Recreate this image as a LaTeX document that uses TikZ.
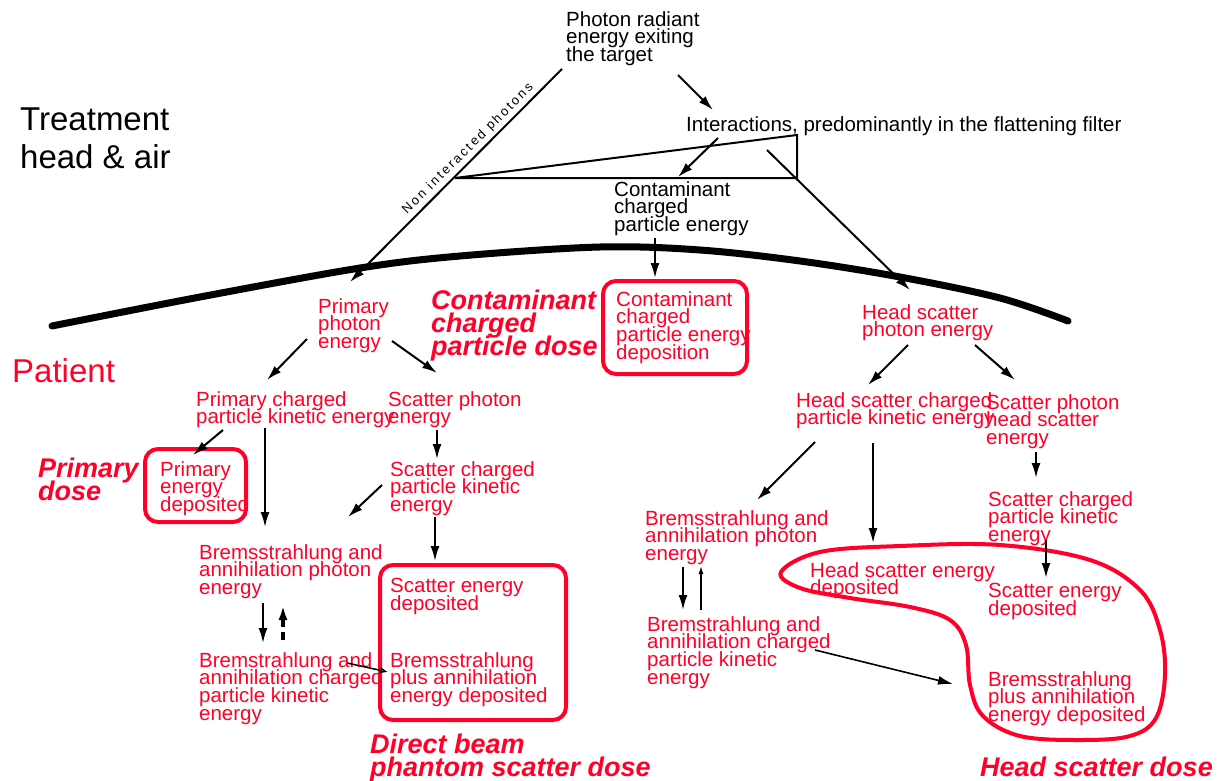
\documentclass[tikz,border=0pt]{standalone}
\usepackage{fontspec}
\setmainfont{Liberation Sans}
\usetikzlibrary{arrows.meta}
\definecolor{hred}{RGB}{255,0,40}
\newcommand\tightlines{\lineskiplimit-20pt\lineskip0pt\relax}

\tikzset{
  lbl/.style={font=\fontsize{20.5}{17.8}\selectfont\tightlines, align=left, anchor=north west, inner sep=0pt},
  rlbl/.style={lbl, text=hred},
  zone/.style={font=\fontsize{33}{38}\selectfont, align=left, anchor=north west, inner sep=0pt},
  dose/.style={font=\fontsize{27}{23}\selectfont\bfseries\itshape\tightlines, text=hred, align=left, anchor=north west, inner sep=0pt},
  arr/.style={-{Latex[length=15pt,width=9pt]}, line width=2pt},
  thinarr/.style={-{Latex[length=8pt,width=5pt]}, line width=1.4pt},
  rbox/.style={draw=hred, line width=4pt, rounded corners=13pt},
}

\begin{document}
\begin{tikzpicture}[x=1pt, y=-1pt]
\useasboundingbox (0,0) rectangle (1218,781);

% Zone labels
\node[zone] (head) at (20,108) {Treatment\\head \& air};
\node[zone, text=hred] (patient) at (12,358) {Patient};

% Treatment head
\node[lbl] (photon) at (566,11) {Photon radiant\\energy exiting\\the target};
\node[lbl] (interact) at (686,116) {Interactions, predominantly in the flattening filter};
\node[lbl] (contam) at (614,181) {Contaminant\\charged\\particle energy};

\coordinate (ffa) at (455,178);
\coordinate (ffb) at (797,178);
\coordinate (ffc) at (797,135);
\draw[line width=2pt, line join=miter] (ffa) -- (ffb) -- (ffc) -- cycle;

\coordinate (nip0) at (562,69);
\coordinate (nip1) at (350,282);
\coordinate (int0) at (678,75);
\coordinate (int1) at (713,110);
\coordinate (con0) at (718,138);
\coordinate (con1) at (678,177);
\coordinate (hsp0) at (767,150);
\coordinate (hsp1) at (910,290);
\coordinate (dep0) at (655,238);
\coordinate (dep1) at (655,278);

\draw[arr] (nip0) -- (nip1);
\node[rotate=45, inner sep=0pt, font=\fontsize{13}{13}\selectfont\addfontfeatures{LetterSpace=18}] (nip) at (468,149) {Non interacted photons};
\draw[arr] (int0) -- (int1);
\draw[arr] (con0) -- (con1);
\draw[arr] (hsp0) -- (hsp1);
\draw[arr] (dep0) -- (dep1);

% Patient surface
\draw[line width=7pt, line cap=round] plot[smooth, tension=0.55] coordinates {(52,326) (200,297) (360,268) (460,256) (600,247) (700,250) (800,261) (900,277) (1000,298) (1068,321)};

% Direct beam
\node[rlbl] (ppe) at (318,298) {Primary\\photon\\energy};
\node[rlbl] (pck) at (196,391) {Primary charged\\particle kinetic energy};
\node[rlbl] (sph) at (388,391) {Scatter photon\\energy};
\node[rlbl] (ped) at (160,461) {Primary\\energy\\deposited};
\node[rlbl] (sck) at (390,461) {Scatter charged\\particle kinetic\\energy};
\node[rlbl] (bph) at (199,544) {Bremsstrahlung and\\annihilation photon\\energy};
\node[rlbl] (sed) at (390,578) {Scatter energy\\deposited};
\node[rlbl] (bch) at (199,652) {Bremstrahlung and\\annihilation charged\\particle kinetic\\energy};
\node[rlbl] (bpa) at (390,652) {Bremsstrahlung\\plus annihilation\\energy deposited};

\draw[rbox] (145,449) rectangle (246,522);
\draw[rbox] (380,565) rectangle (566,720);

\coordinate (a1s) at (307,339); \coordinate (a1e) at (267,380);
\coordinate (a2s) at (392,341); \coordinate (a2e) at (437,373);
\coordinate (a3s) at (223,430); \coordinate (a3e) at (193,455);
\coordinate (a4s) at (265,428); \coordinate (a4e) at (265,527);
\coordinate (a5s) at (437,430); \coordinate (a5e) at (437,459);
\coordinate (a6s) at (382,485); \coordinate (a6e) at (348,517);
\coordinate (a7s) at (435,517); \coordinate (a7e) at (435,561);
\coordinate (a8s) at (263,603); \coordinate (a8e) at (263,643);
\coordinate (a9s) at (283,640); \coordinate (a9e) at (283,605);
\coordinate (a10s) at (347,663); \coordinate (a10e) at (388,672);

\draw[arr] (a1s) -- (a1e);
\draw[arr] (a2s) -- (a2e);
\draw[arr] (a3s) -- (a3e);
\draw[arr] (a4s) -- (a4e);
\draw[arr] (a5s) -- (a5e);
\draw[arr] (a6s) -- (a6e);
\draw[arr] (a7s) -- (a7e);
\draw[arr] (a8s) -- (a8e);
\draw[arr, line width=3.5pt, dash pattern=on 8pt off 5pt] (a9s) -- (a9e);
\draw[-{Latex[open,length=8pt,width=7pt]}, line width=1.5pt] (a10s) -- (a10e);

% Contaminant
\node[rlbl] (ccd) at (616,291) {Contaminant\\charged\\particle energy\\deposition};
\draw[rbox] (603,281) rectangle (747,374);

% Head scatter
\node[rlbl] (hsp) at (862,304) {Head scatter\\photon energy};
\node[rlbl] (hsc) at (796,392) {Head scatter charged\\particle kinetic energy};
\node[rlbl] (shs) at (986,394) {Scatter photon\\head scatter\\energy};
\node[rlbl] (sck2) at (988,491) {Scatter charged\\particle kinetic\\energy};
\node[rlbl] (bph2) at (645,510) {Bremsstrahlung and\\annihilation photon\\energy};
\node[rlbl] (bch2) at (647,616) {Bremstrahlung and\\annihilation charged\\particle kinetic\\energy};
\node[rlbl] (hsd) at (810,562) {Head scatter energy\\deposited};
\node[rlbl] (sed2) at (988,583) {Scatter energy\\deposited};
\node[rlbl] (bpa2) at (988,671) {Bremsstrahlung\\plus annihilation\\energy deposited};

\draw[hred, line width=4pt] plot[smooth cycle, tension=0.6] coordinates {(781,572) (820,552) (900,546) (1000,545) (1090,560) (1140,590) (1160,630) (1165,675) (1156,718) (1130,736) (1080,740) (1020,736) (983,716) (970,685) (966,645) (950,620) (910,607) (850,598) (800,588)};

\coordinate (b1s) at (908,345); \coordinate (b1e) at (868,385);
\coordinate (b2s) at (975,345); \coordinate (b2e) at (1015,380);
\coordinate (b3s) at (815,442); \coordinate (b3e) at (757,500);
\coordinate (b4s) at (873,443); \coordinate (b4e) at (873,543);
\coordinate (b5s) at (1036,452); \coordinate (b5e) at (1036,478);
\coordinate (b6s) at (1046,540); \coordinate (b6e) at (1046,578);
\coordinate (b7s) at (683,567); \coordinate (b7e) at (683,610);
\coordinate (b8s) at (701,610); \coordinate (b8e) at (701,566);
\coordinate (b9s) at (815,650); \coordinate (b9e) at (953,684);

\draw[arr] (b1s) -- (b1e);
\draw[arr] (b2s) -- (b2e);
\draw[arr] (b3s) -- (b3e);
\draw[arr] (b4s) -- (b4e);
\draw[arr] (b5s) -- (b5e);
\draw[arr] (b6s) -- (b6e);
\draw[arr] (b7s) -- (b7e);
\draw[thinarr] (b8s) -- (b8e);
\draw[arr, line width=1.6pt] (b9s) -- (b9e);

% Dose labels
\node[dose] (cdose) at (431,290) {Contaminant\\charged\\particle dose};
\node[dose] (pdose) at (38,458) {Primary\\dose};
\node[dose] (ddose) at (370,734) {Direct beam\\phantom scatter dose};
\node[dose] (hdose) at (980,757) {Head scatter dose};
\end{tikzpicture}
\end{document}
